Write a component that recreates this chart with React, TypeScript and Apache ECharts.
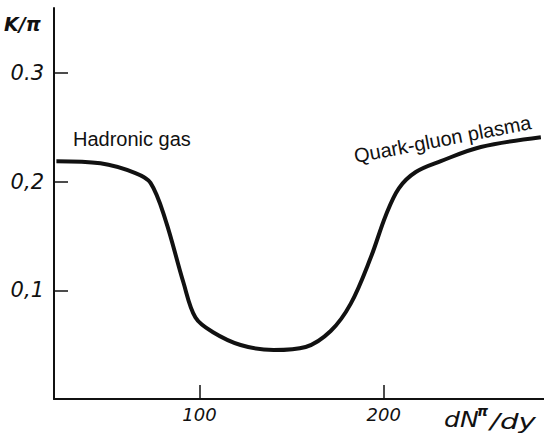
import React, { useEffect, useRef } from "react";
import * as echarts from "echarts";

// Curve: dN^π/dy vs K/π
const xValues = [22.3, 46.2, 65.2, 73.4, 81.5, 91.3, 97.8, 107.1, 122.3, 140.2, 157.6, 171.2, 182.1, 192.9, 201.1, 208.2, 217.4, 231, 252.7, 285.3];
const yValues = [0.219, 0.217, 0.208, 0.199, 0.165, 0.107, 0.075, 0.0617, 0.0497, 0.0451, 0.0479, 0.0626, 0.0878, 0.13, 0.169, 0.194, 0.209, 0.219, 0.232, 0.241];

const xTicks = [100, 200];
const xTickLabels = ["100", "200"];
const yTicks = [0.1, 0.2, 0.3];
const yTickLabels = ["0,1", "0,2", "0.3"];

const yAxisTitle = "K/π";
const xAxisTitleMain = "dN";
const xAxisTitleSup = "π";
const xAxisTitleTail = "/dy";
const leftRegionLabel = "Hadronic gas";
const rightRegionLabel = "Quark-gluon plasma";

export default function App() {
  const ref = useRef<HTMLDivElement>(null);
  useEffect(() => {
    document.body.style.margin = "0";
    if (!ref.current) return;
    const chart = echarts.init(ref.current, undefined, { renderer: "svg" });
    const italic = "DejaVu Sans";
    const sans = "Liberation Sans";
    chart.setOption({
      animation: false,
      backgroundColor: "#ffffff",
      grid: { left: 54, right: 0, top: 8, bottom: 37 },
      xAxis: {
        type: "value",
        min: 21,
        max: 287,
        splitLine: { show: false },
        axisLine: { lineStyle: { color: "#111", width: 2 } },
        axisTick: {
          inside: true,
          length: 14,
          customValues: xTicks,
          lineStyle: { color: "#111", width: 1.5 },
        },
        axisLabel: {
          customValues: xTicks,
          margin: 6,
          color: "#111",
          fontFamily: italic,
          fontStyle: "italic",
          fontSize: 18,
          formatter: (v: number) => {
            const i = xTicks.indexOf(Math.round(v));
            return i >= 0 ? xTickLabels[i] : "";
          },
        },
      },
      yAxis: {
        type: "value",
        min: 0,
        max: 0.36,
        splitLine: { show: false },
        axisLine: { lineStyle: { color: "#111", width: 2 } },
        axisTick: {
          inside: true,
          length: 14,
          customValues: yTicks,
          lineStyle: { color: "#111", width: 1.5 },
        },
        axisLabel: {
          customValues: yTicks,
          margin: 10,
          color: "#111",
          fontFamily: italic,
          fontStyle: "italic",
          fontSize: 21,
          formatter: (v: number) => {
            const i = yTicks.findIndex((t) => Math.abs(t - v) < 1e-6);
            return i >= 0 ? yTickLabels[i] : "";
          },
        },
      },
      series: [
        {
          type: "line",
          data: xValues.map((x, i) => [x, yValues[i]]),
          smooth: 0.35,
          symbol: "none",
          lineStyle: { color: "#111", width: 4 },
        },
      ],
      graphic: [
        {
          type: "text",
          x: 4,
          y: 14,
          style: {
            text: yAxisTitle,
            fontFamily: italic,
            fontStyle: "italic",
            fontWeight: "bold",
            fontSize: 19,
            fill: "#111",
          },
        },
        {
          type: "text",
          x: 73,
          y: 129,
          style: { text: leftRegionLabel, fontFamily: sans, fontSize: 20, fill: "#111" },
        },
        {
          type: "text",
          x: 356,
          y: 166,
          rotation: 0.19,
          style: {
            text: rightRegionLabel,
            fontFamily: sans,
            fontSize: 20,
            fill: "#111",
            textAlign: "left",
            textVerticalAlign: "bottom",
          },
        },
        {
          type: "text",
          x: 444,
          y: 430,
          scaleX: 1.2,
          style: {
            text: xAxisTitleMain,
            fontFamily: italic,
            fontStyle: "italic",
            fontSize: 21,
            fill: "#111",
            textVerticalAlign: "bottom",
          },
        },
        {
          type: "text",
          x: 477,
          y: 418,
          style: {
            text: xAxisTitleSup,
            fontFamily: italic,
            fontStyle: "italic",
            fontWeight: "bold",
            fontSize: 14,
            fill: "#111",
            textVerticalAlign: "bottom",
          },
        },
        {
          type: "text",
          x: 490,
          y: 432,
          scaleX: 1.4,
          style: {
            text: xAxisTitleTail,
            fontFamily: italic,
            fontStyle: "italic",
            fontSize: 21,
            fill: "#111",
            textVerticalAlign: "bottom",
          },
        },
      ],
    });
    return () => chart.dispose();
  }, []);
  return <div ref={ref} style={{ width: 544, height: 436 }} />;
}
